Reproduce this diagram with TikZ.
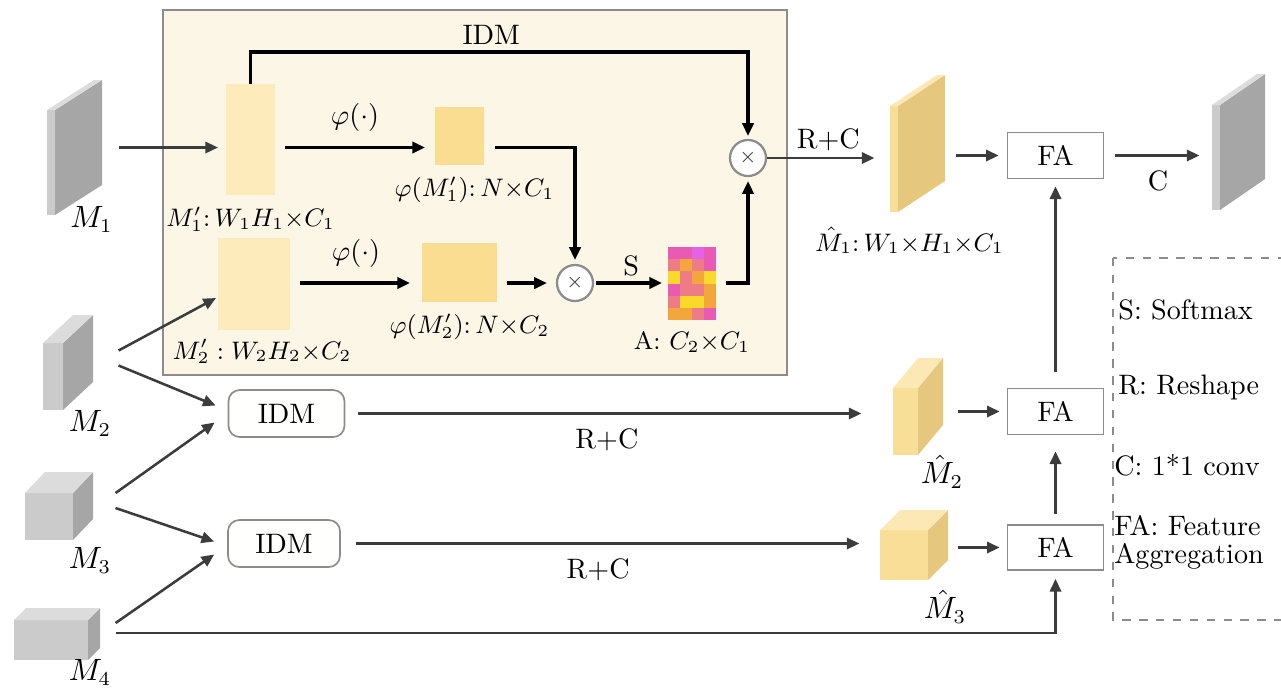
\documentclass[tikz,border=0pt]{standalone}
\usepackage{tikz}
\usetikzlibrary{arrows.meta,positioning,fit,calc}

\definecolor{boxbg}{HTML}{FCF6E6}
\definecolor{boxln}{HTML}{8C8C8C}
\definecolor{arrgray}{HTML}{3C3C3C}
\definecolor{paleY}{HTML}{FDEBBB}
\definecolor{phiY}{HTML}{FBDD91}
\definecolor{grayF}{HTML}{CBCBCB}
\definecolor{grayS}{HTML}{A6A6A6}
\definecolor{grayT}{HTML}{DCDCDC}
\definecolor{yelF}{HTML}{F9DE98}
\definecolor{yelS}{HTML}{E6C77E}
\definecolor{yelT}{HTML}{FBE8B5}
\definecolor{hpink}{HTML}{E95AB5}
\definecolor{hmag}{HTML}{E462E6}
\definecolor{hsal}{HTML}{EE7C86}
\definecolor{hora}{HTML}{F2A63C}
\definecolor{hyel}{HTML}{FAD92A}

\newcommand{\pxu}{0.0125cm}

% 3d feature map: name, left, bottom, w, h, depth x, depth y, colour set
\newcommand{\featmap}[8]{%
  \fill[#8F] (#2,#3) rectangle ++(#4,-#5);
  \fill[#8S] (#2+#4,#3) -- ++(#6,-#7) -- ++(0,-#5) -- ++(-#6,#7) -- cycle;
  \fill[#8T] (#2,#3-#5) -- ++(#6,-#7) -- ++(#4,0) -- ++(-#6,#7) -- cycle;
  \path (#2,#3) coordinate (#1-sw) (#2+#4+#6,#3-#5-#7) coordinate (#1-ne);
  \node[inner sep=0, fit=(#1-sw)(#1-ne)] (#1) {};
}

\begin{document}
\begin{tikzpicture}[
  x=0.0125cm, y=-0.0125cm,
  lbl/.style={font=\fontsize{10}{12}\selectfont, inner sep=1pt},
  mlbl/.style={font=\fontsize{9}{10}\selectfont, inner sep=1pt},
  plbl/.style={font=\fontsize{10.5}{12}\selectfont, inner sep=1pt},
  feat/.style={inner sep=0, outer sep=0},
  otimes/.style={circle, draw=boxln, line width=0.8pt, fill=white, minimum size=36*\pxu,
                 inner sep=0, text=arrgray, font=\scriptsize},
  fa/.style={draw=boxln, fill=white, line width=0.6pt, minimum width=96*\pxu,
             minimum height=46*\pxu, font=\fontsize{10}{12}\selectfont},
  idm/.style={draw=boxln, fill=white!97!boxbg, rounded corners=4pt, line width=0.6pt,
              minimum width=116*\pxu, minimum height=47*\pxu, font=\fontsize{10}{12}\selectfont},
  garr/.style={-{Triangle[length=4.5pt,width=4pt]}, draw=arrgray, line width=0.9pt},
  barr/.style={-{Triangle[length=4.5pt,width=4pt]}, draw=black, line width=1.1pt}
]
\useasboundingbox (0,0) rectangle (1281,689);
\clip (0,0) rectangle (1281,689);

% IDM block
\draw[boxln, fill=boxbg, line width=0.7pt] (163,10) rectangle (787,375);

\node[feat, fill=paleY, minimum width=49*\pxu, minimum height=111*\pxu] (m1p) at (250.5,139.5) {};
\node[feat, fill=phiY, minimum width=49*\pxu, minimum height=58*\pxu] (phi1) at (459.5,136) {};
\node[feat, fill=paleY, minimum width=72*\pxu, minimum height=92*\pxu] (m2p) at (254,284) {};
\node[feat, fill=phiY, minimum width=75*\pxu, minimum height=59*\pxu] (phi2) at (459.5,272.5) {};
\node[otimes] (ox1) at (748,158) {$\times$};
\node[otimes] (ox2) at (575,283) {$\times$};
\node[feat, minimum width=48*\pxu, minimum height=73*\pxu] (amap) at (692,283.5) {};
\foreach \c [count=\i from 0] in {pink,pink,mag,pink, sal,ora,sal,pink, yel,sal,ora,yel,
                                  pink,sal,sal,ora, sal,yel,yel,ora, ora,ora,sal,pink} {
  \pgfmathtruncatemacro\cx{mod(\i,4)}
  \pgfmathtruncatemacro\cy{floor(\i/4)}
  \fill[h\c] ($(amap.north west)+(\cx*12,\cy*12.17)$) rectangle ++(12,12.17);
}

\node[mlbl, below=3pt of m1p] (m1plbl) {$M'_1{:}\,W_1H_1{\times}C_1$};
\node[mlbl, below=3pt of phi1, xshift=15*\pxu] (phi1lbl) {$\varphi(M'_1){:}\,N{\times}C_1$};
\node[mlbl, below=2pt of m2p, xshift=8*\pxu] (m2plbl) {$M'_2 : W_2H_2{\times}C_2$};
\node[mlbl, below=3pt of phi2, xshift=10*\pxu] (phi2lbl) {$\varphi(M'_2){:}\,N{\times}C_2$};
\node[mlbl, below=3pt of amap] (albl) {A: $C_2{\times}C_1$};

% feature maps
\featmap{m1}{47}{215}{8}{105}{47}{30}{gray}
\featmap{m2}{43}{410}{20}{67}{30}{28}{gray}
\featmap{m3}{25}{540}{48}{47}{20}{21}{gray}
\featmap{m4}{14}{660}{74}{40}{12}{12}{gray}
\featmap{mh1}{890}{212}{8}{106}{47}{31}{yel}
\featmap{mh2}{893}{455}{25}{67}{25}{30}{yel}
\featmap{mh3}{880}{580}{48}{50}{20}{20}{yel}
\featmap{out}{1212}{210}{8}{105}{45}{31}{gray}

\node[plbl] (m1lbl) at ($(m1.south)+(17,4)$) {$M_1$};
\node[plbl] (m2lbl) at ($(m2.south)+(22,13)$) {$M_2$};
\node[plbl] (m3lbl) at ($(m3.south)+(31,20)$) {$M_3$};
\node[plbl] (m4lbl) at ($(m4.south)+(33,12)$) {$M_4$};
\node[mlbl] (mh1lbl) at ($(mh1.south)+(-8,28)$) {$\hat{M}_1{:}\,W_1{\times}H_1{\times}C_1$};
\node[plbl] (mh2lbl) at ($(mh2.south)+(24,16)$) {$\hat{M}_2$};
\node[plbl] (mh3lbl) at ($(mh3.south)+(31,26)$) {$\hat{M}_3$};

\node[idm] (idm1) at (286.5,413.5) {IDM};
\node[idm, minimum width=112*\pxu] (idm2) at (284,543.5) {IDM};
\node[fa] (fa1) at (1055.5,155.5) {FA};
\node[fa] (fa2) at (1055.5,411.5) {FA};
\node[fa, minimum height=45*\pxu] (fa3) at (1055.5,547.5) {FA};

% inside the block
\draw[barr, shorten >=3*\pxu] (m1p.north) -- ++(0,-32) -| node[lbl, pos=0.25, above=1pt, xshift=-8*\pxu] {IDM} (ox1.north);
\draw[barr, shorten <=10*\pxu, shorten >=10*\pxu] (m1p.east |- m1) -- node[lbl, above=4pt] {$\varphi(\cdot)$} (phi1.west |- m1);
\draw[barr, shorten <=11*\pxu, shorten >=4*\pxu] (phi1.east |- m1) -| (ox2.north);
\draw[barr, shorten <=10*\pxu, shorten >=12*\pxu] (m2p.east |- ox2) -- node[lbl, above=4pt] {$\varphi(\cdot)$} (phi2.west |- ox2);
\draw[barr, shorten <=10*\pxu, shorten >=9*\pxu] (phi2.east |- ox2) -- (ox2.west);
\draw[barr, shorten <=2*\pxu, shorten >=6*\pxu] (ox2.east) -- node[lbl, above=1pt] {S} (amap.west |- ox2);
\draw[barr, shorten <=10*\pxu, shorten >=4*\pxu] (amap.east |- ox2) -| (ox1.south);

% inputs
\draw[garr, shorten <=16*\pxu, shorten >=8*\pxu] (m1) -- (m1 -| m1p.west);
\draw[garr] ($(m2.east)+(25,-12)$) -- ($(m2p.west)+(-2,14)$);
\draw[garr] ($(m2.east)+(25,3)$) -- ($(idm1.west)+(-12,-8)$);
\draw[garr] ($(m3.east)+(22,-13)$) -- ($(idm1.west)+(-13,9)$);
\draw[garr] ($(m3.east)+(22,2)$) -- ($(idm2.west)+(-13,-2)$);
\draw[garr] ($(m4.east)+(15,-11)$) -- ($(idm2.west)+(-13,11)$);
\draw[garr, shorten >=8*\pxu] ($(m4.east)+(15,-1)$) -| (fa3.south);

% outputs
\draw[garr, shorten >=15*\pxu] (ox1.east) -- node[lbl, above=1pt] {R+C} (ox1 -| mh1.west);
\draw[garr, shorten <=13*\pxu, shorten >=31*\pxu] (idm1.east) -- node[lbl, below=4pt, xshift=-12*\pxu] {R+C} (idm1.east -| mh2.west);
\draw[garr, shorten <=15*\pxu, shorten >=20*\pxu] (idm2.east) -- node[lbl, below=4pt, xshift=-12*\pxu] {R+C} (idm2.east -| mh3.west);
\draw[garr, shorten <=10*\pxu, shorten >=8*\pxu] (mh1.east |- fa1) -- (fa1.west);
\draw[garr, shorten <=14*\pxu, shorten >=7*\pxu] (mh2.east |- fa2) -- (fa2.west);
\draw[garr, shorten <=9*\pxu, shorten >=7*\pxu] (mh3.east |- fa3) -- (fa3.west);
\draw[garr, shorten <=11*\pxu, shorten >=12*\pxu] (fa1.east) -- node[lbl, below=4pt] {C} (fa1 -| out.west);
\draw[garr, shorten <=16*\pxu, shorten >=7*\pxu] (fa2.north) -- (fa1.south);
\draw[garr, shorten <=10*\pxu, shorten >=16*\pxu] (fa3.north) -- (fa2.south);

% legend
\draw[boxln, dashed, line width=0.6pt] (1113,258) rectangle (1310,620);
\node[lbl, anchor=west] (lgs) at (1115,310) {S: Softmax};
\node[lbl, anchor=west] (lgr) at (1115,387) {R: Reshape};
\node[lbl, anchor=west] (lgc) at (1111,465) {C: 1*1 conv};
\node[lbl, anchor=north west, align=left, font=\fontsize{10}{10}\selectfont] (lgfa) at (1111,512) {FA: Feature\\Aggregation};
\end{tikzpicture}
\end{document}
